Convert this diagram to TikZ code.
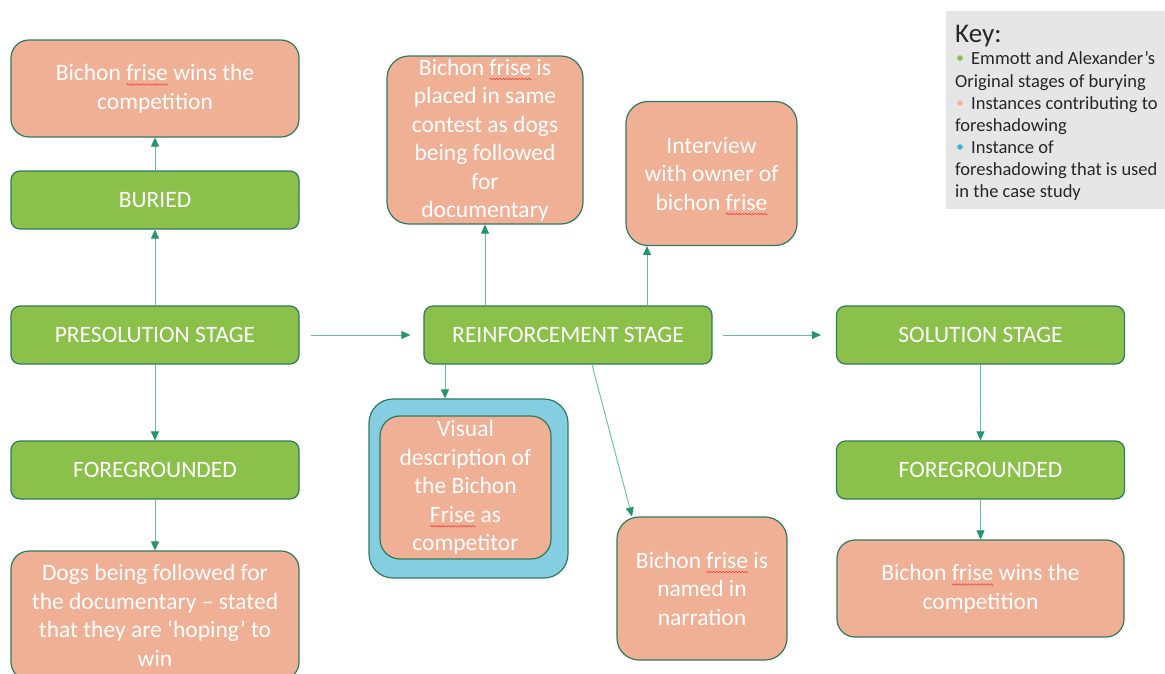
\documentclass[tikz,border=0pt]{standalone}
\usepackage{fontspec}
\setmainfont{Carlito}
\usetikzlibrary{arrows.meta}

\definecolor{stagegreen}{HTML}{8BC14A}
\definecolor{salmon}{HTML}{F0B095}
\definecolor{caseblue}{HTML}{85CDE0}
\definecolor{edge}{HTML}{2E7A5C}
\definecolor{link}{HTML}{62BFA2}
\definecolor{linkhead}{HTML}{24936F}
\definecolor{keygrey}{HTML}{E6E6E6}
\definecolor{keytext}{HTML}{262626}
\definecolor{keygreen}{HTML}{8BC34A}
\definecolor{keysalmon}{HTML}{F4B49A}
\definecolor{keyblue}{HTML}{3FB3D8}
\definecolor{spell}{HTML}{E23B3B}

% red wavy spell-check underline, built from a repeated wave segment
\newsavebox\wavebox
\newsavebox\spellword
\newcommand\spellmark[1]{%
  \sbox\spellword{#1}%
  \rlap{\raisebox{-5pt}[0pt][0pt]{\hbox to\wd\spellword{\xleaders\copy\wavebox\hfil}}}%
  \usebox\spellword}

\tikzset{
  stagebox/.style={draw=edge, line width=1.2pt, fill=stagegreen, rounded corners=9pt,
    minimum width=288pt, minimum height=58pt, text=white, inner sep=0pt,
    font=\fontsize{23.5}{28}\selectfont},
  notebox/.style={draw=edge, line width=1.2pt, fill=salmon, rounded corners=18pt,
    text=white, align=center, inner sep=0pt,
    font=\fontsize{23.5}{28.5}\selectfont},
  arr/.style={draw=link, line width=0.9pt,
    -{Triangle[length=9pt,width=8pt,color=linkhead]}},
  keyline/.style={anchor=base west, inner sep=0pt, text=keytext,
    font=\fontsize{18.5}{22}\selectfont},
}

\begin{document}
\sbox\wavebox{\pgfpicture
  \pgfsetlinewidth{0.5pt}\pgfsetstrokecolor{spell}%
  \pgfpathmoveto{\pgfpoint{0pt}{0pt}}%
  \pgfpathcurveto{\pgfpoint{0.5pt}{1pt}}{\pgfpoint{1pt}{1pt}}{\pgfpoint{1.5pt}{0pt}}%
  \pgfpathcurveto{\pgfpoint{2pt}{-1pt}}{\pgfpoint{2.5pt}{-1pt}}{\pgfpoint{3pt}{0pt}}%
  \pgfusepath{stroke}%
  \pgfresetboundingbox
  \pgfpathrectangle{\pgfpoint{0pt}{-1pt}}{\pgfpoint{3pt}{2pt}}%
  \pgfusepath{use as bounding box}%
\endpgfpicture}%
\begin{tikzpicture}[x=1pt,y=-1pt]
\useasboundingbox (0,0) rectangle (1165,673);
\clip (0,0) rectangle (1165,673);

% stages of burying
\node[stagebox] (buried) at (155,200) {BURIED};
\node[stagebox] (pre) at (155,335) {PRESOLUTION STAGE};
\node[stagebox] (fgl) at (155,470) {FOREGROUNDED};
\node[stagebox] (reinf) at (568,335) {REINFORCEMENT STAGE};
\node[stagebox] (sol) at (980.5,335) {SOLUTION STAGE};
\node[stagebox] (fgr) at (980.5,470) {FOREGROUNDED};

% foreshadowing instances
\node[notebox, minimum width=288pt, minimum height=97pt] (winl) at (155,88.5)
  {Bichon \spellmark{frise} wins the\\competition};
\node[notebox, minimum width=288pt, minimum height=129pt] (dogs) at (155,615.5)
  {Dogs being followed for\\the documentary -- stated\\that they are `hoping' to\\win};
\node[notebox, minimum width=196pt, minimum height=168pt, rounded corners=22pt] (placed) at (485,140)
  {Bichon \spellmark{frise} is\\placed in same\\contest as dogs\\being followed\\for\\documentary};
\node[notebox, minimum width=171pt, minimum height=144pt, rounded corners=22pt] (inter) at (711.5,173.5)
  {Interview\\with owner of\\bichon \spellmark{frise}};
\node[draw=edge, line width=1.2pt, fill=caseblue, rounded corners=24pt,
  minimum width=199pt, minimum height=179pt, inner sep=0pt] (visout) at (468.5,488.5) {};
\node[notebox, minimum width=171pt, minimum height=143pt, rounded corners=20pt] (vis) at (465.5,487.5)
  {Visual\\description of\\the Bichon\\\spellmark{Frise} as\\competitor};
\node[notebox, minimum width=170pt, minimum height=143pt, rounded corners=22pt] (narr) at (702,588.5)
  {Bichon \spellmark{frise} is\\named in\\narration};
\node[notebox, minimum width=287pt, minimum height=97pt] (winr) at (980.5,588.5)
  {Bichon \spellmark{frise} wins the\\competition};

% connectors
\draw[arr] (pre.north) -- (buried.south);
\draw[arr] (buried.north) -- (winl.south);
\draw[arr] (pre.south) -- (fgl.north);
\draw[arr] (fgl.south) -- (dogs.north);
\draw[arr] ([xshift=11pt]pre.east) -- ([xshift=-13pt]reinf.west);
\draw[arr] ([xshift=10pt]reinf.east) -- ([xshift=-15pt]sol.west);
\draw[arr] ([xshift=-83pt]reinf.north) -- (placed.south);
\draw[arr] ([xshift=79pt]reinf.north) -- ([xshift=-64.5pt]inter.south);
\draw[arr] ([xshift=-123pt]reinf.south) -- ([xshift=-23.5pt]visout.north);
\draw[arr] ([xshift=24pt]reinf.south) -- ([xshift=-70pt]narr.north);
\draw[arr] (sol.south) -- (fgr.north);
\draw[arr] (fgr.south) -- (winr.north);

% key
\node[fill=keygrey, minimum width=219pt, minimum height=198pt, inner sep=0pt,
  anchor=north west] (key) at (946,11) {};
\node[keyline, font=\fontsize{27}{30}\selectfont] (keyhead) at (955,42) {Key:};
\fill[keygreen] (960,58) circle (2.8pt);
\node[keyline] (k1) at (971,64) {Emmott and Alexander’s};
\node[keyline] (k1b) at (955,87) {Original stages of burying};
\fill[keysalmon] (960,103) circle (2.8pt);
\node[keyline] (k2) at (971,109) {Instances contributing to};
\node[keyline] (k2b) at (955,131) {foreshadowing};
\fill[keyblue] (960,147) circle (2.8pt);
\node[keyline] (k3) at (971,153) {Instance of};
\node[keyline] (k3b) at (955,175) {foreshadowing that is used};
\node[keyline] (k3c) at (955,197) {in the case study};
\end{tikzpicture}
\end{document}
